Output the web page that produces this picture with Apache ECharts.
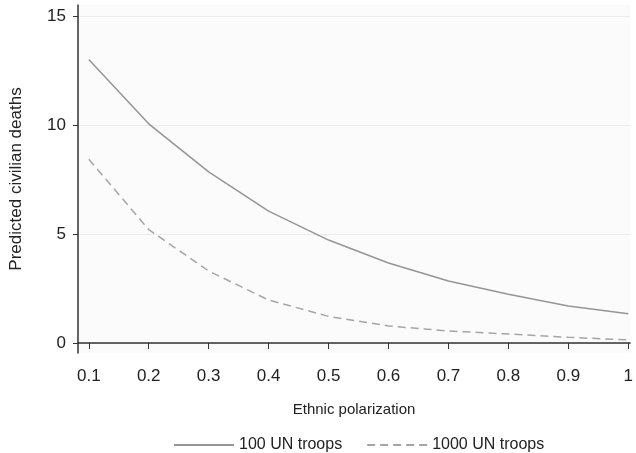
<!DOCTYPE html>
<html><head><meta charset="utf-8">
<script src="https://cdn.jsdelivr.net/npm/echarts@6/dist/echarts.min.js"></script>
<style>html,body{margin:0;padding:0;background:#fff}#c{width:636px;height:453px}</style>
</head><body><div id="c"></div>
<script>
const xValues = [0.1,0.2,0.3,0.4,0.5,0.6,0.7,0.8,0.9,1.0];
const troops100 = [13.0,10.05,7.85,6.05,4.72,3.67,2.84,2.23,1.70,1.34];
const troops1000 = [8.43,5.2,3.3,1.97,1.22,0.78,0.55,0.41,0.26,0.14];
const xTicks = [0.1,0.2,0.3,0.4,0.5,0.6,0.7,0.8,0.9,1];
const yTicks = [0,5,10,15];
const seriesNames = ['100 UN troops','1000 UN troops'];

const chart = echarts.init(document.getElementById('c'));
const font = '"Liberation Sans", Arial, Helvetica, sans-serif';
chart.setOption({
  animation:false,
  grid:{left:78,right:0,top:5,bottom:100,show:true,backgroundColor:'#fbfbfb',borderWidth:0},
  legend:{
    top:432,left:168,itemWidth:60,itemHeight:14,itemGap:24,
    itemStyle:{opacity:0},
    textStyle:{fontFamily:font,fontSize:16,color:'#222'},
    data:seriesNames
  },
  xAxis:{
    type:'value',min:0.082,max:1.003,
    name:'Ethnic polarization',nameLocation:'middle',nameGap:49,
    nameTextStyle:{fontFamily:font,fontSize:15,color:'#222'},
    axisLine:{show:true,lineStyle:{color:'#333',width:1.5}},
    axisTick:{show:true,length:6,lineStyle:{color:'#333'},customValues:xTicks},
    axisLabel:{fontFamily:font,fontSize:17,color:'#222',margin:15,customValues:xTicks,
      formatter:v=>String(Math.round(v*10)/10)},
    splitLine:{show:false}
  },
  yAxis:{
    type:'value',min:-0.46,max:15.5,
    name:'Predicted civilian deaths',nameLocation:'middle',nameGap:53,
    nameTextStyle:{fontFamily:font,fontSize:17,color:'#222'},
    axisLine:{show:true,lineStyle:{color:'#333',width:1.5}},
    axisTick:{show:true,length:5,lineStyle:{color:'#333'},customValues:yTicks},
    axisLabel:{fontFamily:font,fontSize:17,color:'#222',margin:12,customValues:yTicks},
    splitLine:{show:true,lineStyle:{color:'#ececec',width:1}}
  },
  series:[
    {name:seriesNames[0],type:'line',data:xValues.map((x,i)=>[x,troops100[i]]),
     symbol:'none',lineStyle:{color:'#959595',width:1.5,type:'solid'},itemStyle:{color:'#959595'}},
    {name:seriesNames[1],type:'line',data:xValues.map((x,i)=>[x,troops1000[i]]),
     symbol:'none',lineStyle:{color:'#a5a5a5',width:1.5,type:[8,5]},itemStyle:{color:'#a5a5a5'}}
  ]
});
</script></body></html>
